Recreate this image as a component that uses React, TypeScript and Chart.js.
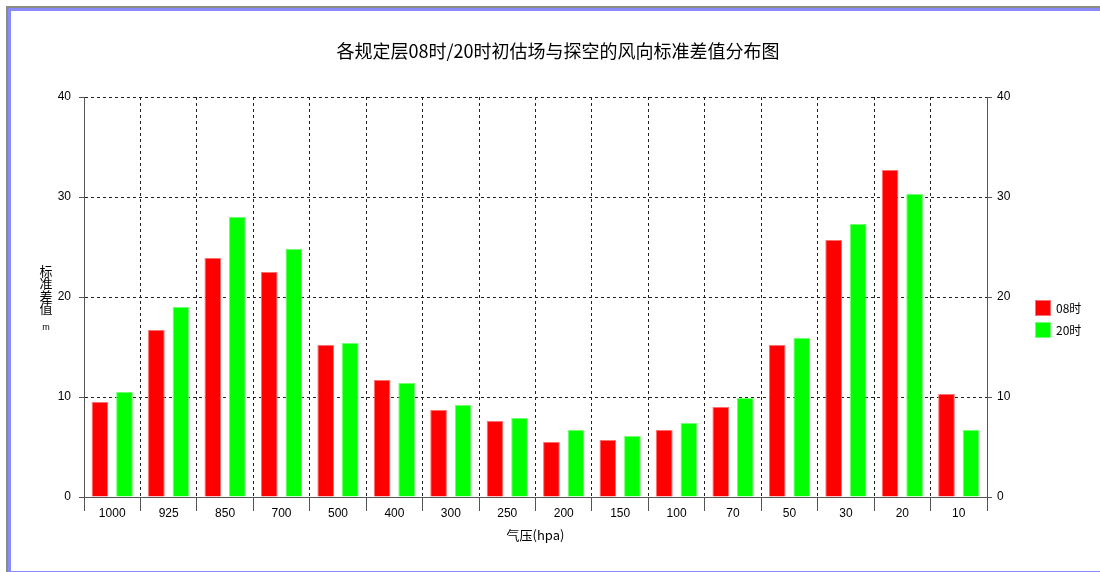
import React, { useEffect, useRef } from 'react';
import { Chart, registerables } from 'chart.js';

Chart.register(...registerables);

const categories = ['1000', '925', '850', '700', '500', '400', '300', '250', '200', '150', '100', '70', '50', '30', '20', '10'];
const series08 = [9.5, 16.7, 23.9, 22.5, 15.2, 11.7, 8.7, 7.6, 5.5, 5.7, 6.7, 9.0, 15.2, 25.7, 32.7, 10.3];
const series20 = [10.5, 19.0, 28.0, 24.8, 15.4, 11.4, 9.2, 7.9, 6.7, 6.1, 7.4, 9.9, 15.9, 27.3, 30.3, 6.7];
const seriesLabels = ['08时', '20时'];
const seriesColors = ['#ff0000', '#00ff00'];
const seriesBorders = ['#ff7070', '#70ff70'];
const yMin = 0;
const yMax = 40;
const yStep = 10;
const chartTitle = '各规定层08时/20时初估场与探空的风向标准差值分布图';
const xTitle = '气压(hpa)';
const yTitleChars = ['标', '准', '差', '值'];
const yUnit = 'm';

const CJK = '"Noto Sans CJK SC", "Noto Sans", sans-serif';
const NUM = '"Liberation Sans", Arial, sans-serif';

const textPlugin = {
  id: 'textPlugin',
  afterDraw(chart: any) {
    const ctx = chart.ctx;
    const ca = chart.chartArea;
    ctx.save();
    ctx.fillStyle = '#000';
    ctx.textAlign = 'center';
    ctx.textBaseline = 'middle';
    // title
    ctx.font = '18px ' + CJK;
    ctx.fillText(chartTitle, chart.width / 2 + 8, ca.top - 46);
    // x title
    ctx.font = '13px ' + CJK;
    ctx.fillText(xTitle, (ca.left + ca.right) / 2, ca.bottom + 38);
    // y title (stacked upright)
    ctx.font = '13px ' + CJK;
    const yx = ca.left - 38;
    yTitleChars.forEach((c, i) => {
      ctx.fillText(c, yx, ca.top + 174 + i * 12.5);
    });
    ctx.font = '9px ' + NUM;
    ctx.fillText(yUnit, yx, ca.top + 231);
    // legend
    const lx = ca.right + 48;
    const ly = ca.top + 203;
    chart.data.datasets.forEach((ds: any, i: number) => {
      const y = ly + i * 22;
      ctx.fillStyle = ds.backgroundColor;
      ctx.fillRect(lx, y, 16, 16);
      ctx.strokeStyle = ds.borderColor;
      ctx.lineWidth = 1;
      ctx.strokeRect(lx + 0.5, y + 0.5, 15, 15);
      ctx.fillStyle = '#000';
      ctx.textAlign = 'left';
      ctx.font = '12px ' + CJK;
      ctx.fillText(ds.label, lx + 21, y + 8);
    });
    ctx.restore();
  },
};

export default function App() {
  const ref = useRef<HTMLCanvasElement | null>(null);

  useEffect(() => {
    if (!ref.current) return;
    const chart = new Chart(ref.current, {
      type: 'bar',
      data: {
        labels: categories,
        datasets: [
          {
            label: seriesLabels[0],
            data: series08,
            backgroundColor: seriesColors[0],
            borderColor: seriesBorders[0],
            borderWidth: 1,
            categoryPercentage: 0.87,
            barPercentage: 0.68,
            yAxisID: 'y',
          },
          {
            label: seriesLabels[1],
            data: series20,
            backgroundColor: seriesColors[1],
            borderColor: seriesBorders[1],
            borderWidth: 1,
            categoryPercentage: 0.87,
            barPercentage: 0.68,
            yAxisID: 'y',
          },
        ],
      },
      options: {
        responsive: false,
        animation: false,
        layout: { padding: { top: 97, left: 0, right: 0, bottom: 0 } },
        plugins: {
          legend: { display: false },
          title: { display: false },
          tooltip: { enabled: false },
        },
        scales: {
          x: {
            type: 'category',
            position: 'bottom',
            afterFit: (s: any) => {
              s.height = 75;
            },
            grid: {
              offset: true,
              color: (c: any) => (c.type === 'tick' && c.index > 0 ? '#222' : 'rgba(0,0,0,0)'),
              tickColor: '#555',
              tickLength: 14,
              lineWidth: 1,
            },
            border: { display: true, color: '#555', width: 1, dash: [3, 3] },
            ticks: {
              color: '#000',
              font: { family: NUM, size: 12 },
              padding: -5,
              maxRotation: 0,
              autoSkip: false,
            },
          },
          y: {
            type: 'linear',
            position: 'left',
            min: yMin,
            max: yMax,
            afterFit: (s: any) => {
              s.width = 84;
            },
            grid: {
              color: (c: any) => (c.tick && c.tick.value === 0 ? 'rgba(0,0,0,0)' : '#222'),
              tickColor: '#555',
              tickLength: 5,
            },
            border: { display: true, color: '#555', width: 1, dash: [3, 3] },
            ticks: {
              stepSize: yStep,
              color: '#000',
              font: { family: NUM, size: 12 },
              padding: 8,
            },
          },
          y1: {
            type: 'linear',
            position: 'right',
            min: yMin,
            max: yMax,
            afterFit: (s: any) => {
              s.width = 113;
            },
            grid: {
              drawOnChartArea: false,
              tickColor: '#555',
              tickLength: 5,
            },
            border: { display: true, color: '#555', width: 1 },
            ticks: {
              stepSize: yStep,
              color: '#000',
              font: { family: NUM, size: 12 },
              padding: 5,
            },
          },
        },
      },
      plugins: [textPlugin],
    } as any);
    return () => chart.destroy();
  }, []);

  return (
    <div style={{ position: 'fixed', left: 0, top: 0, width: 1100, height: 572, background: '#fff', overflow: 'hidden' }}>
      <div
        style={{
          position: 'absolute',
          left: 6,
          top: 6,
          width: 1200,
          height: 566,
          borderLeft: '2px solid #8c8c80',
          borderTop: '2px solid #8c8c80',
          boxSizing: 'border-box',
        }}
      >
        <div
          style={{
            position: 'absolute',
            left: 0,
            top: 0,
            right: 0,
            bottom: 0,
            borderLeft: '3px solid #8a8aff',
            borderTop: '3px solid #8a8aff',
            borderBottom: '1px solid #8a8aff',
            boxSizing: 'border-box',
          }}
        />
      </div>
      <canvas
        ref={ref}
        width={1100}
        height={572}
        style={{ position: 'absolute', left: 0, top: 0, width: 1100, height: 572, display: 'block' }}
      />
    </div>
  );
}
